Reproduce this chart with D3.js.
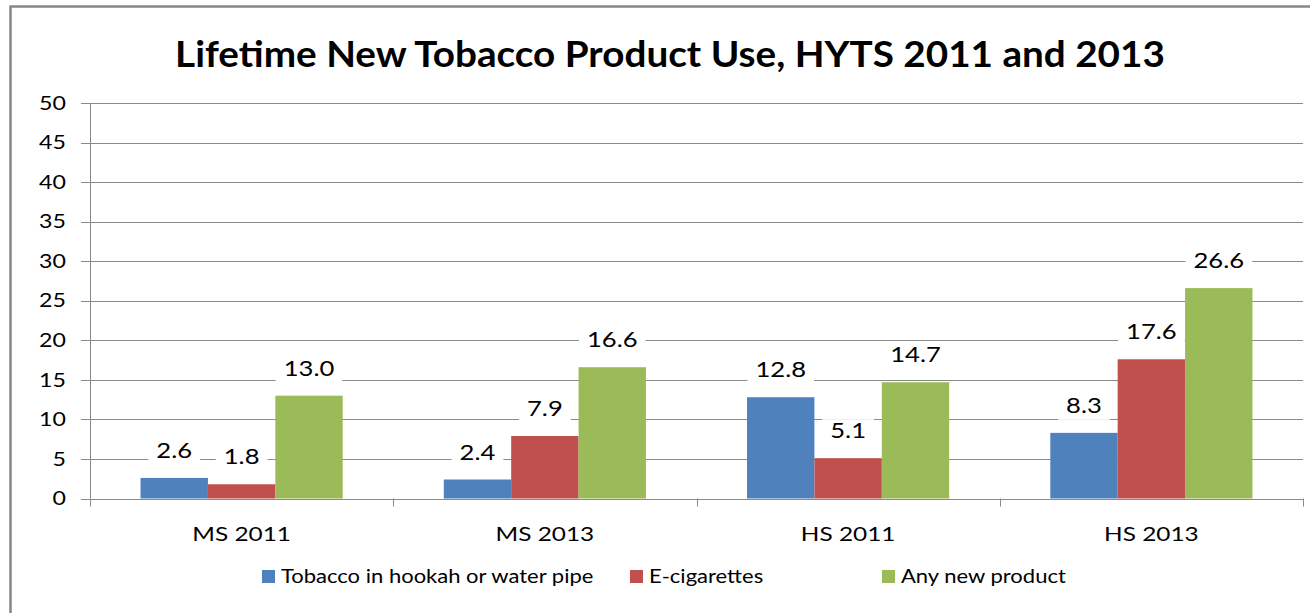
<!DOCTYPE html>
<html lang="en">
<head>
    <meta charset="UTF-8">
    <title>Lifetime New Tobacco Product Use, HYTS 2011 and 2013</title>
    <style>
        body { margin: 0; background: #fff; }
        svg { display: block; font-family: Lato, "Open Sans", sans-serif; }
    </style>
</head>
<body>
    <div id="chart"></div>
    <script src="https://d3js.org/d3.v7.min.js"></script>
    <script>
        // Dati
        const categories = ["MS 2011", "MS 2013", "HS 2011", "HS 2013"];
        const seriesNames = ["Tobacco in hookah or water pipe", "E-cigarettes", "Any new product"];
        const hookah = [2.6, 2.4, 12.8, 8.3];
        const ecig = [1.8, 7.9, 5.1, 17.6];
        const anyProduct = [13.0, 16.6, 14.7, 26.6];
        const yTicks = [0, 5, 10, 15, 20, 25, 30, 35, 40, 45, 50];
        const colors = ["#4F81BD", "#C0504D", "#9BBB59"];

        const series = [hookah, ecig, anyProduct];

        const width = 1310, height = 613;
        const plot = { left: 90, right: 1303, top: 103, bottom: 498.5 };
        const sx = 1.22; // testo leggermente allargato, come nell'originale

        const svg = d3.select("#chart").append("svg")
            .attr("width", width)
            .attr("height", height);

        svg.append("rect").attr("width", width).attr("height", height).attr("fill", "#fff");

        // cornice del grafico (tagliata a destra e in basso)
        svg.append("rect")
            .attr("x", 10.5).attr("y", 6.5)
            .attr("width", 1330).attr("height", 640)
            .attr("fill", "none")
            .attr("stroke", "#878787")
            .attr("stroke-width", 2.5);

        const x0 = d3.scaleBand().domain(categories).range([plot.left, plot.right]);
        const x1 = d3.scaleBand().domain(d3.range(series.length))
            .range([0, x0.bandwidth()]).paddingInner(0).paddingOuter(0.75);
        const y = d3.scaleLinear().domain([0, 50]).range([plot.bottom, plot.top]);

        // funzione per testo stirato orizzontalmente
        function stretchText(sel, x, yy, anchor, k = sx) {
            return sel.attr("transform", `translate(${x},${yy}) scale(${k},1)`)
                .attr("text-anchor", anchor);
        }

        // Titolo
        const title = svg.append("text")
            .attr("font-weight", "bold")
            .attr("font-size", 36)
            .attr("fill", "#000")
            .text("Lifetime New Tobacco Product Use, HYTS 2011 and 2013");
        const tw = title.node().getComputedTextLength();
        title.attr("transform", `translate(670,67) scale(${990 / tw},1)`).attr("text-anchor", "middle");

        // Griglia
        svg.append("g").selectAll("line")
            .data(yTicks)
            .join("line")
            .attr("x1", plot.left - 9).attr("x2", plot.right)
            .attr("y1", d => Math.round(y(d)) + 0.5).attr("y2", d => Math.round(y(d)) + 0.5)
            .attr("stroke", "#8a8a8a").attr("stroke-width", 1);

        // Etichette asse y
        svg.append("g").selectAll("text")
            .data(yTicks)
            .join("text")
            .attr("font-size", 19)
            .attr("fill", "#000")
            .attr("dy", "0.35em")
            .text(d => d)
            .each(function (d) { stretchText(d3.select(this), 66, y(d), "end"); });

        // Asse y
        svg.append("line")
            .attr("x1", plot.left + 0.5).attr("x2", plot.left + 0.5)
            .attr("y1", plot.top).attr("y2", plot.bottom)
            .attr("stroke", "#8a8a8a");

        // Tacche asse x
        const bounds = categories.map(c => x0(c)).concat([plot.right]);
        svg.append("g").selectAll("line")
            .data(bounds)
            .join("line")
            .attr("x1", d => Math.round(d) + 0.5).attr("x2", d => Math.round(d) + 0.5)
            .attr("y1", plot.bottom).attr("y2", plot.bottom + 8)
            .attr("stroke", "#8a8a8a");

        // Etichette categorie
        svg.append("g").selectAll("text")
            .data(categories)
            .join("text")
            .attr("font-size", 20)
            .attr("fill", "#000")
            .text(d => d)
            .each(function (d) { stretchText(d3.select(this), x0(d) + x0.bandwidth() / 2, 541, "middle"); });

        // Barre
        const groups = svg.append("g").selectAll("g")
            .data(categories)
            .join("g")
            .attr("transform", c => `translate(${x0(c)},0)`);

        groups.selectAll("rect")
            .data((c, i) => series.map((s, k) => ({ k, v: s[i] })))
            .join("rect")
            .attr("x", d => x1(d.k))
            .attr("width", x1.bandwidth())
            .attr("y", d => y(d.v))
            .attr("height", d => y(0) - y(d.v))
            .attr("fill", d => colors[d.k]);

        // Etichette dei dati con sfondo bianco
        const labels = groups.selectAll("g.lbl")
            .data((c, i) => series.map((s, k) => ({ k, v: s[i] })))
            .join("g")
            .attr("class", "lbl");

        labels.each(function (d) {
            const g = d3.select(this);
            const cx = x1(d.k) + x1.bandwidth() / 2;
            const by = y(d.v) - 20;
            const bg = g.append("rect").attr("fill", "#fff");
            const t = g.append("text")
                .attr("font-size", 21)
                .attr("fill", "#000")
                .text(d.v.toFixed(1));
            stretchText(t, cx, by, "middle");
            const w = t.node().getComputedTextLength() * sx + 16;
            bg.attr("x", cx - w / 2).attr("width", w)
                .attr("y", by - 19).attr("height", 26);
        });

        // Legenda
        const legendX = [262, 630, 882];
        const legend = svg.append("g").selectAll("g")
            .data(seriesNames)
            .join("g")
            .attr("transform", (d, i) => `translate(${legendX[i]},0)`);

        legend.append("rect")
            .attr("x", 0).attr("y", 570)
            .attr("width", 13).attr("height", 13)
            .attr("fill", (d, i) => colors[i]);

        legend.append("text")
            .attr("font-size", 20)
            .attr("fill", "#000")
            .text(d => d)
            .each(function () { stretchText(d3.select(this), 19, 583, "start", 1.1); });
    </script>
</body>
</html>
